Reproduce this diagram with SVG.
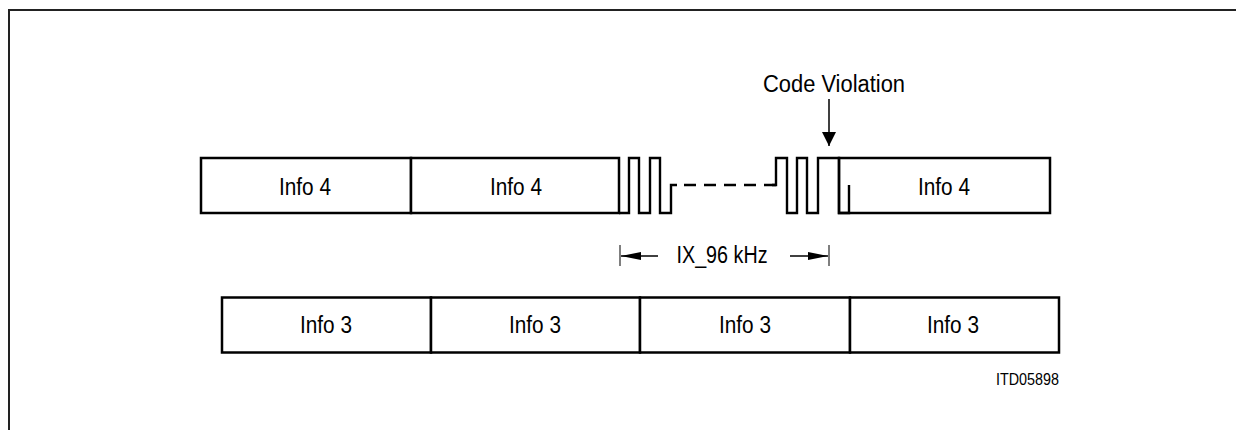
<svg xmlns="http://www.w3.org/2000/svg" width="1236" height="430" viewBox="0 0 1236 430">
<defs>
<style>
.box{fill:#fff;stroke:#000;stroke-width:2.5}
.wave{fill:none;stroke:#000;stroke-width:2.4;stroke-linejoin:miter}
.dash{fill:none;stroke:#000;stroke-width:2.4;stroke-dasharray:12 8}
.t{font-family:"Liberation Sans",Arial,sans-serif;font-size:23px;fill:#000}
.s{font-family:"Liberation Sans",Arial,sans-serif;font-size:17px;fill:#000}
.ln{stroke:#000;stroke-width:1.3;fill:none}
.tk{stroke:#555;stroke-width:1.5;fill:none}
</style>
<marker id="ah" viewBox="0 0 14 14" refX="14" refY="7" markerWidth="14" markerHeight="14" markerUnits="userSpaceOnUse" orient="auto">
<path d="M0,0 L14,7 L0,14 z" fill="#000"/>
</marker>
<marker id="ad" viewBox="0 0 20 10" refX="20" refY="5" markerWidth="20" markerHeight="10" markerUnits="userSpaceOnUse" orient="auto">
<path d="M0,1 L20,5 L0,9 z" fill="#000"/>
</marker>
</defs>
<rect width="1236" height="430" fill="#fff"/>
<path d="M9,430 V10 H1236" fill="none" stroke="#222" stroke-width="2"/>

<g id="info4-a"><rect class="box" x="201" y="158" width="210" height="55"/><text class="t" x="305" y="195" text-anchor="middle" textLength="52" lengthAdjust="spacingAndGlyphs">Info 4</text></g>
<g id="info4-b"><rect class="box" x="411" y="158" width="208" height="55"/><text class="t" x="516" y="195" text-anchor="middle" textLength="52" lengthAdjust="spacingAndGlyphs">Info 4</text></g>
<g id="info4-c"><rect class="box" x="839" y="158" width="211" height="55"/><text class="t" x="944" y="195" text-anchor="middle" textLength="52" lengthAdjust="spacingAndGlyphs">Info 4</text></g>

<g id="info3-a"><rect class="box" x="222" y="297.5" width="209" height="55"/><text class="t" x="326" y="333" text-anchor="middle" textLength="52" lengthAdjust="spacingAndGlyphs">Info 3</text></g>
<g id="info3-b"><rect class="box" x="431" y="297.5" width="209" height="55"/><text class="t" x="535" y="333" text-anchor="middle" textLength="52" lengthAdjust="spacingAndGlyphs">Info 3</text></g>
<g id="info3-c"><rect class="box" x="640" y="297.5" width="210" height="55"/><text class="t" x="745" y="333" text-anchor="middle" textLength="52" lengthAdjust="spacingAndGlyphs">Info 3</text></g>
<g id="info3-d"><rect class="box" x="850" y="297.5" width="209" height="55"/><text class="t" x="953" y="333" text-anchor="middle" textLength="52" lengthAdjust="spacingAndGlyphs">Info 3</text></g>

<g id="waveform">
<path class="wave" d="M619,213 H629 V158 H639 V213 H650 V158 H660 V213 H671 V185 H677"/>
<path class="dash" d="M684,185 H776"/>
<path class="wave" d="M772,185 H776 V158 H787 V213 H797 V158 H807 V213 H818 V158 H839 V213 H849 V185"/>
</g>

<g id="connectors">
<line class="ln" x1="829" y1="99" x2="829" y2="146" marker-end="url(#ah)" style="stroke-width:1.5"/>
<line class="tk" x1="620" y1="245" x2="620" y2="266"/>
<line class="tk" x1="829" y1="245" x2="829" y2="266"/>
<line class="ln" x1="658" y1="256" x2="621" y2="256" marker-end="url(#ad)"/>
<line class="ln" x1="790" y1="256" x2="828" y2="256" marker-end="url(#ad)"/>
</g>

<text class="t" x="834" y="92" text-anchor="middle" textLength="142" lengthAdjust="spacingAndGlyphs">Code Violation</text>
<text class="t" x="722" y="263" text-anchor="middle" textLength="91" lengthAdjust="spacingAndGlyphs">IX_96 kHz</text>
<text class="s" x="1059" y="385" text-anchor="end" textLength="63" lengthAdjust="spacingAndGlyphs">ITD05898</text>
</svg>
